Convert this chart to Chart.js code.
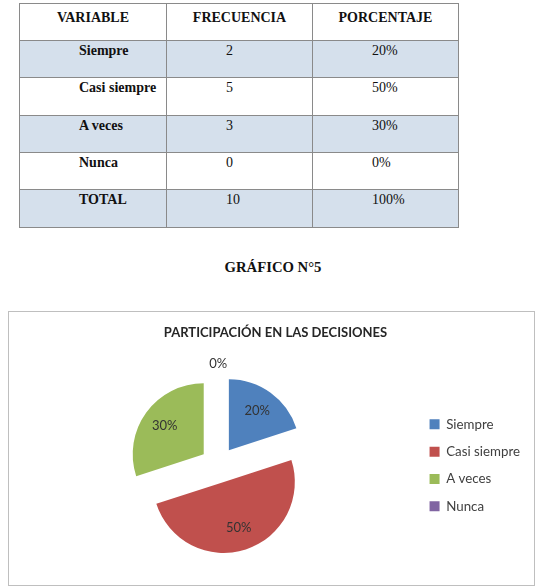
<!DOCTYPE html>
<html>
<head>
<meta charset="utf-8">
<script src="https://cdn.jsdelivr.net/npm/chart.js@4.4.1/dist/chart.umd.min.js"></script>
<style>
  html, body { margin: 0; padding: 0; background: #ffffff; width: 543px; height: 588px; overflow: hidden; }
  #tbl { position: absolute; left: 19px; top: 3px; border-collapse: collapse; font-family: "Liberation Serif", "Times New Roman", serif; font-size: 14px; color: #111; }
  #tbl td { border: 1px solid #8a8a8a; padding: 0; vertical-align: top; box-sizing: border-box; }
  #tbl tr.h td { font-weight: bold; text-align: center; padding-top: 6px; }
  #tbl tr.d td { padding-left: 59px; padding-top: 2px; line-height: 16px; }
  #tbl tr.d td:first-child { font-weight: bold; }
  #tbl tr.b td { background: #d5e0ec; }
  #gtitle { position: absolute; left: 0; width: 546px; top: 258px; text-align: center; font-family: "Liberation Serif", "Times New Roman", serif; font-weight: bold; font-size: 14.7px; line-height: 18px; color: #111; }
  #box { position: absolute; left: 8px; top: 311px; width: 527px; height: 275px; border: 1px solid #bfbfbf; box-sizing: border-box; }
  #box canvas { display: block; }
</style>
</head>
<body>
<table id="tbl"></table>
<div id="gtitle">GRÁFICO N°5</div>
<div id="box"><canvas id="c" width="525" height="273"></canvas></div>
<script>
// ---- data ----
const headers = ["VARIABLE", "FRECUENCIA", "PORCENTAJE"];
const categories = ["Siempre", "Casi siempre", "A veces", "Nunca"];
const frequencies = [2, 5, 3, 0];
const percentages = ["20%", "50%", "30%", "0%"];
const totalLabel = "TOTAL";
const totalFreq = 10;
const totalPct = "100%";
const chartTitle = "PARTICIPACIÓN EN LAS DECISIONES";
const sliceColors = ["#4f81bd", "#c0504d", "#9bbb59", "#8064a2"];

// ---- table ----
const tbl = document.getElementById('tbl');
const colW = [147, 146, 146];
const rowH = [37, 37, 38, 37, 37, 37.5];
function addRow(cells, cls, h) {
  const tr = document.createElement('tr');
  tr.className = cls;
  tr.style.height = h + 'px';
  cells.forEach((c, i) => {
    const td = document.createElement('td');
    td.textContent = c;
    td.style.width = colW[i] + 'px';
    td.style.height = h + 'px';
    tr.appendChild(td);
  });
  tbl.appendChild(tr);
}
addRow(headers, 'h', rowH[0]);
categories.forEach((c, i) => addRow([c, String(frequencies[i]), percentages[i]], i % 2 === 0 ? 'd b' : 'd', rowH[i + 1]));
addRow([totalLabel, String(totalFreq), totalPct], 'd b', rowH[5]);

// ---- chart ----
const EXPLODE = 18;
const RADIUS = 71;

const explodePlugin = {
  id: 'explode',
  beforeDatasetDraw(chart, args) {
    const ctx = chart.ctx;
    args.meta.data.forEach((arc) => {
      const p = arc.getProps(['startAngle', 'endAngle'], true);
      const mid = (p.startAngle + p.endAngle) / 2;
      ctx.save();
      ctx.translate(Math.cos(mid) * EXPLODE, Math.sin(mid) * EXPLODE);
      arc.draw(ctx, chart.chartArea);
      ctx.restore();
    });
    return false;
  }
};

const labelPlugin = {
  id: 'pctLabels',
  afterDatasetsDraw(chart) {
    const ctx = chart.ctx;
    const meta = chart.getDatasetMeta(0);
    const data = chart.data.datasets[0].data;
    const total = data.reduce((a, b) => a + b, 0);
    ctx.save();
    ctx.font = '13px Lato, "Open Sans", sans-serif';
    ctx.fillStyle = '#333333';
    ctx.textAlign = 'center';
    ctx.textBaseline = 'middle';
    meta.data.forEach((arc, i) => {
      const p = arc.getProps(['x', 'y', 'startAngle', 'endAngle', 'outerRadius'], true);
      const mid = (p.startAngle + p.endAngle) / 2;
      const dist = data[i] > 0 ? EXPLODE + 0.68 * p.outerRadius : p.outerRadius + EXPLODE + 12;
      const txt = Math.round(data[i] / total * 100) + '%';
      ctx.fillText(txt, p.x + Math.cos(mid) * dist, p.y + Math.sin(mid) * dist);
    });
    ctx.restore();
  }
};

new Chart(document.getElementById('c'), {
  type: 'pie',
  data: {
    labels: categories,
    datasets: [{
      data: frequencies,
      backgroundColor: sliceColors,
      borderWidth: 0,
      radius: RADIUS
    }]
  },
  options: {
    responsive: false,
    animation: false,
    layout: { padding: { left: 12, right: 4, top: 0, bottom: 6 } },
    plugins: {
      title: {
        display: true,
        text: chartTitle,
        color: '#262626',
        font: { family: 'Lato, "Open Sans", sans-serif', size: 13, weight: 'bold' },
        padding: { top: 13, bottom: 10 }
      },
      legend: {
        position: 'right',
        title: { display: true, text: '', padding: { top: 12, bottom: 12 }, font: { size: 13 } },
        labels: {
          boxWidth: 10,
          boxHeight: 10,
          padding: 14,
          color: '#404040',
          font: { family: 'Lato, "Open Sans", sans-serif', size: 13.3 }
        }
      },
      tooltip: { enabled: false }
    }
  },
  plugins: [explodePlugin, labelPlugin]
});
</script>
</body>
</html>
